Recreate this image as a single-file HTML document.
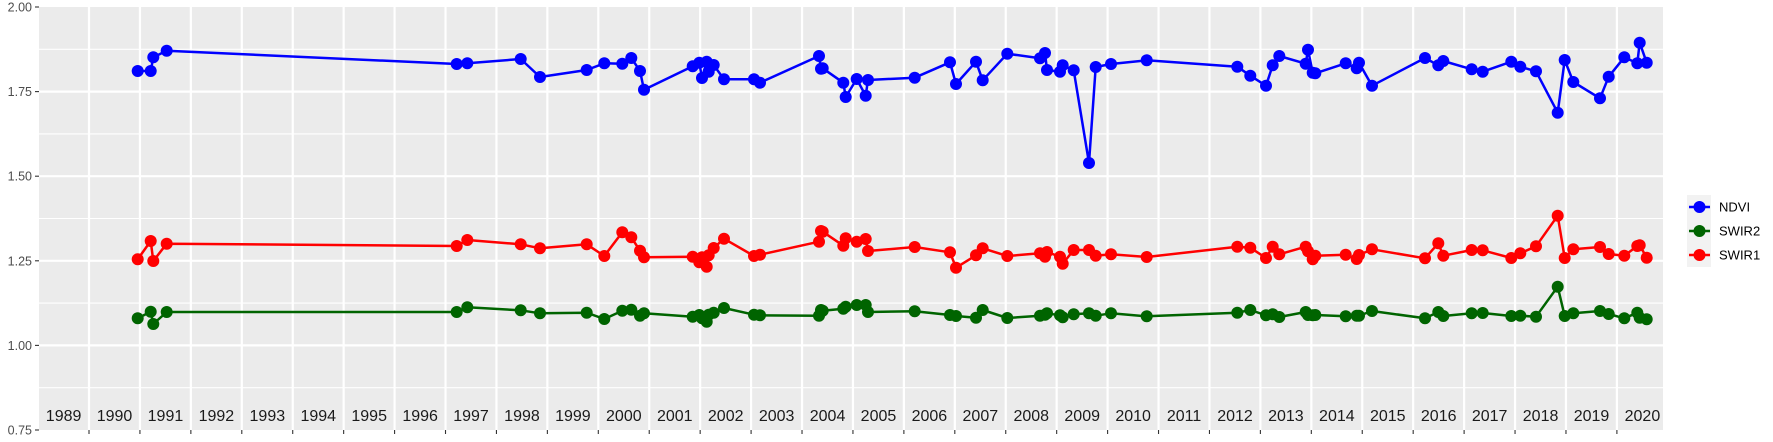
<!DOCTYPE html>
<html><head><meta charset="utf-8"><style>
html,body{margin:0;padding:0;background:#fff;}
svg{display:block;font-family:"Liberation Sans",sans-serif;}
</style></head><body>
<svg id="s" width="1773" height="442" viewBox="0 0 1773 442" xmlns="http://www.w3.org/2000/svg">
<rect x="39" y="7" width="1624" height="423" fill="#ebebeb"/>
<g id="grid"></g>
<g id="labels" font-size="16" fill="#1a1a1a" text-anchor="middle"></g>
<g id="yax" font-size="12.5" fill="#4d4d4d" text-anchor="end"></g>
<g id="data"></g>
<g id="legend">
<rect x="1687" y="195" width="24" height="72" fill="#f2f2f2"/>
<line x1="1689" y1="207" x2="1710" y2="207" stroke="#0000ff" stroke-width="2.5"/><circle cx="1699.5" cy="207" r="6" fill="#0000ff"/>
<line x1="1689" y1="231" x2="1710" y2="231" stroke="#006400" stroke-width="2.5"/><circle cx="1699.5" cy="231" r="6" fill="#006400"/>
<line x1="1689" y1="255" x2="1710" y2="255" stroke="#ff0000" stroke-width="2.5"/><circle cx="1699.5" cy="255" r="6" fill="#ff0000"/>
<text x="1719" y="211.5" font-size="13" fill="#000">NDVI</text>
<text x="1719" y="235.5" font-size="13" fill="#000">SWIR2</text>
<text x="1719" y="259.5" font-size="13" fill="#000">SWIR1</text>
</g>
</svg>
<script>
var NS="http://www.w3.org/2000/svg";
function el(p,t,a,txt){var e=document.createElementNS(NS,t);for(var k in a)e.setAttribute(k,a[k]);if(txt)e.textContent=txt;document.getElementById(p).appendChild(e);return e;}
function Y(v){return 430-(v-0.75)/1.25*423;}
// horizontal grid
for(var i=0;i<5;i++){var vm=0.875+0.25*i;el("grid","line",{x1:39,x2:1663,y1:Y(vm),y2:Y(vm),stroke:"#fff","stroke-width":1.1});}
for(var i=0;i<5;i++){var v=1+0.25*i;if(v<2)el("grid","line",{x1:39,x2:1663,y1:Y(v),y2:Y(v),stroke:"#fff","stroke-width":2.2});}
var yl=["0.75","1.00","1.25","1.50","1.75","2.00"];
for(var i=0;i<6;i++){var yy=Y(0.75+0.25*i);el("yax","text",{x:32,y:yy+4.5},yl[i]);el("grid","line",{x1:35,x2:39,y1:yy,y2:yy,stroke:"#333","stroke-width":1.1});}
for(var k=0;k<=30;k++){var x=89+50.93*k;el("grid","line",{x1:x,x2:x,y1:7,y2:430,stroke:"#fff","stroke-width":2.2});el("grid","line",{x1:x,x2:x,y1:430,y2:434,stroke:"#333","stroke-width":1.1});}
for(var i=0;i<32;i++){el("labels","text",{x:63.6+50.93*i,y:421},String(1989+i));}
var X=[137.7,150.7,153.3,166.7,456.7,467.3,520.7,540,586.7,604.3,622.3,631.3,640,644,692.7,699.3,702,706.7,708.7,713.7,724,754,760,819,821,822.7,843.3,845.7,856.7,865.7,868,914.7,950,956,976,982.7,1007.3,1040,1045,1047,1060,1062.7,1073.7,1089,1095.7,1111,1146.7,1237.3,1250.3,1266,1272.7,1279.3,1305.7,1308,1312.7,1315.3,1345.7,1356.7,1359,1372,1425,1438.3,1443.3,1471.7,1482.7,1511.3,1520.3,1536,1557.7,1564.7,1573.3,1600,1608.7,1624.3,1637.3,1639.7,1646.7];
var N=[71,71,57.3,50.7,64,63.3,59,77,70,63.3,63.7,58,71,89.7,66.3,62.7,78,61.7,71.7,65,79.3,79.3,82.7,56,68.7,68.3,82.7,97,79,95.7,80,77.7,62.3,84,61.7,80.3,53.7,58.3,53,70,71.7,65.3,70.3,163,67,64,60.3,66.7,75.7,85.7,65.3,56,63.7,49.7,72.7,73.3,63.3,68.3,62.7,85.7,58,65.3,61,69.3,71.7,61.7,66.7,71.3,112.7,60,82,98.3,76.7,57.3,63.3,42.7,62.7];
var R=[259.3,241,261,243.7,246,240,244.3,248.3,244.3,256,232.3,237.3,250.7,257.3,256.7,262.3,257.3,266.7,255.3,248,238.7,256,254.7,241.7,231,231.7,245.7,238.3,241.7,239,251,247,252.3,267.7,255.3,248.3,256,253.3,256.7,252,256.7,263.7,250,250,255.7,254.3,257,246.7,247.7,258,246.7,254.3,246.7,251.3,259.3,255.7,254.7,259,255,249.3,258.3,243.3,255.7,250,250.3,258,253.3,246.3,215.7,258,249.3,247,254,255.7,246,245.3,257.7];
var G=[318.3,311.7,324,312,312,307.3,310.3,313.3,312.7,319,310.7,309.7,315.7,313.3,316.7,315,318.3,321.7,314.7,312.7,308,314.7,315.3,315.7,310,310.7,308.7,306.7,305,305,312,311.3,315,316,317.7,310,318,315.7,314.7,313.3,315.3,317.3,314.3,313.3,315.7,313.3,316.3,312.7,310,315.3,314.3,317,312,315,315.3,315,316.3,315.7,315.7,311,318.3,312,316,313.3,313,316,315.7,316.7,286.7,316,313.3,311,314,318.3,312.7,317.7,319.3];
function series(ys,c){var pts=X.map(function(x,i){return x+","+ys[i];}).join(" ");el("data","polyline",{points:pts,fill:"none",stroke:c,"stroke-width":2.5,"stroke-linejoin":"round"});X.forEach(function(x,i){el("data","circle",{cx:x,cy:ys[i],r:6,fill:c});});}
series(N,"#0000ff");series(G,"#006400");series(R,"#ff0000");
</script>
</body></html>
